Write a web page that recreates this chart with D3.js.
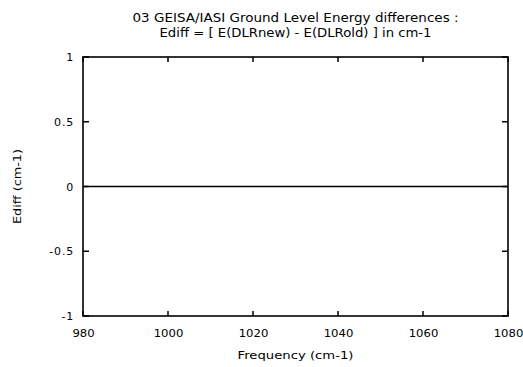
<!DOCTYPE html>
<html>
<head>
<meta charset="utf-8">
<script src="https://cdn.jsdelivr.net/npm/d3@7"></script>
<style>
  html, body { margin: 0; padding: 0; background: #fff; }
  svg text { font-family: "DejaVu Sans", sans-serif; fill: #000; }
</style>
</head>
<body>
<svg id="chart" width="523" height="367"></svg>
<script>
// Ground level energy difference curve (cm-1) over the frequency window
const frequency = [980, 1080];
const ediff = [0, 0];

const xTicks = [980, 1000, 1020, 1040, 1060, 1080];
const yTicks = [-1, -0.5, 0, 0.5, 1];
const titleLines = [
  "03 GEISA/IASI Ground Level Energy differences :",
  "Ediff = [ E(DLRnew) - E(DLRold) ] in cm-1"
];
const xLabel = "Frequency (cm-1)";
const yLabel = "Ediff (cm-1)";

const m = { left: 83, right: 508, top: 57, bottom: 316 };

const svg = d3.select("#chart");

const x = d3.scaleLinear().domain([980, 1080]).range([m.left, m.right]);
const y = d3.scaleLinear().domain([-1, 1]).range([m.bottom, m.top]);

const fmtY = d => (d === 0 ? "0" : String(d));

// tick labels via the axis generators (domain and tick lines hidden)
svg.append("g")
  .attr("transform", `translate(0,${m.bottom})`)
  .call(d3.axisBottom(x).tickValues(xTicks).tickSize(0).tickPadding(13).tickFormat(d3.format("d")))
  .call(g => g.select(".domain").remove())
  .call(g => g.selectAll("text")
    .attr("font-size", 11)
    .attr("textLength", d => String(d).length * 7.4)
    .attr("lengthAdjust", "spacingAndGlyphs"));

svg.append("g")
  .attr("transform", `translate(${m.left},0)`)
  .call(d3.axisLeft(y).tickValues(yTicks).tickSize(0).tickPadding(9).tickFormat(fmtY))
  .call(g => g.select(".domain").remove())
  .call(g => g.selectAll("text").attr("font-size", 11).attr("letter-spacing", 0.8));

// inward tick marks mirrored on all four sides
const tickPath = [];
xTicks.forEach(v => {
  const px = x(v);
  tickPath.push(`M${px},${m.bottom}V${m.bottom - 5}`, `M${px},${m.top}V${m.top + 5}`);
});
yTicks.forEach(v => {
  const py = y(v);
  tickPath.push(`M${m.left},${py}H${m.left + 6}`, `M${m.right},${py}H${m.right - 6}`);
});
svg.append("path")
  .attr("d", tickPath.join(""))
  .attr("fill", "none")
  .attr("stroke", "#000")
  .attr("stroke-width", 1.5);

// plot frame
svg.append("rect")
  .attr("x", m.left).attr("y", m.top)
  .attr("width", m.right - m.left).attr("height", m.bottom - m.top)
  .attr("fill", "none").attr("stroke", "#000").attr("stroke-width", 1.6);

// difference curve
const line = d3.line().x((d, i) => x(frequency[i])).y(d => y(d));
svg.append("path")
  .datum(ediff)
  .attr("d", line)
  .attr("fill", "none")
  .attr("stroke", "#000")
  .attr("stroke-width", 1.6);

// title
const cx = (m.left + m.right) / 2;
svg.append("text")
  .attr("x", cx).attr("y", 22)
  .attr("text-anchor", "middle")
  .attr("font-size", 12)
  .attr("textLength", 326).attr("lengthAdjust", "spacingAndGlyphs")
  .text(titleLines[0]);
svg.append("text")
  .attr("x", cx).attr("y", 37)
  .attr("text-anchor", "middle")
  .attr("font-size", 12)
  .attr("textLength", 272).attr("lengthAdjust", "spacingAndGlyphs")
  .text(titleLines[1]);

// axis labels
svg.append("text")
  .attr("x", cx).attr("y", 359)
  .attr("text-anchor", "middle")
  .attr("font-size", 11)
  .attr("textLength", 116).attr("lengthAdjust", "spacingAndGlyphs")
  .text(xLabel);

svg.append("text")
  .attr("transform", `translate(21,${(m.top + m.bottom) / 2}) rotate(-90)`)
  .attr("text-anchor", "middle")
  .attr("font-size", 11)
  .attr("textLength", 75).attr("lengthAdjust", "spacingAndGlyphs")
  .text(yLabel);
</script>
</body>
</html>
